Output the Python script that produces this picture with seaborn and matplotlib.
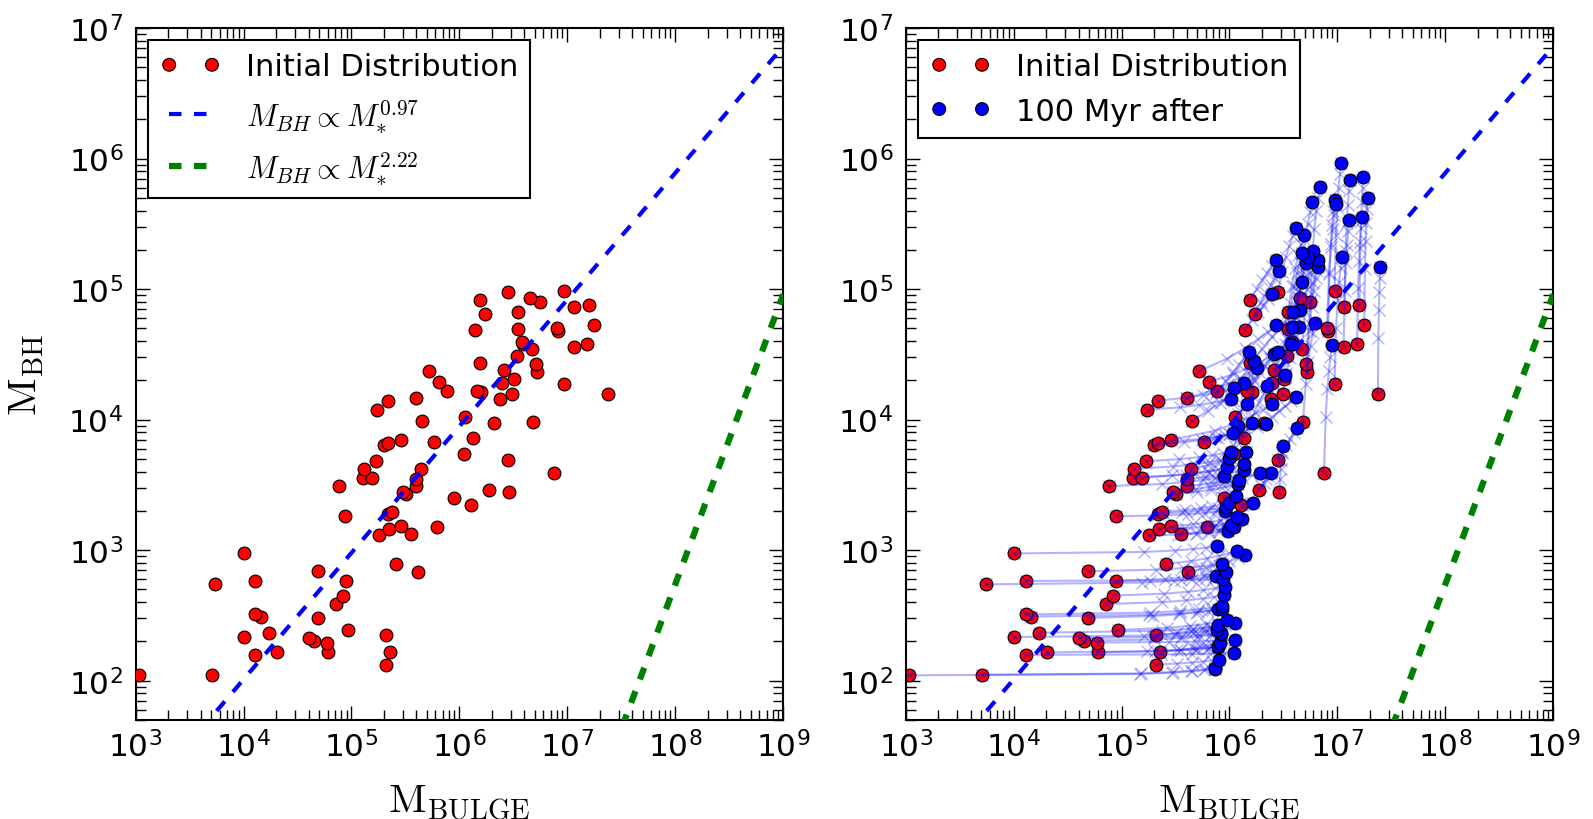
import numpy as np
import pandas as pd
import matplotlib
matplotlib.use("Agg")
import matplotlib.pyplot as plt
import seaborn as sns

# Bulge and black-hole masses of each galaxy at the start (solar masses)
m_bulge_init = [
    1.08e3, 5.1e3, 2.1e5, 1.29e4, 2.04e4, 6.0e4, 2.28e5, 5.9e4, 4.5e4, 4.07e4,
    1.0e4, 2.1e5, 1.71e4, 9.2e4, 4.9e4, 1.45e4, 1.29e4, 7.25e4, 8.3e4, 5.5e3,
    1.29e4, 8.9e4, 4.1e5, 4.9e4, 2.57e5, 1.0e4,
    1.78e5, 3.55e5, 2.22e5, 6.15e5, 2.85e5, 8.8e4, 2.2e5, 2.37e5, 1.27e6, 8.9e5,
    3.2e5, 3.0e5, 2.9e6, 1.87e6, 7.7e4, 4.0e5, 4.0e5, 1.29e5, 1.54e5, 7.5e6,
    1.3e5, 4.4e5, 1.7e5, 2.8e6, 1.1e6, 2.0e5, 2.17e5, 5.8e5, 2.9e5, 1.35e6,
    2.07e6, 4.8e6, 4.5e5, 1.13e6, 1.74e5, 2.2e5, 2.4e6, 4.0e5, 2.37e7, 3.1e6,
    1.6e6, 7.7e5, 1.45e6, 9.4e6, 2.5e6, 6.5e5, 3.2e6, 5.2e6, 5.2e5, 2.6e6,
    5.1e6, 1.55e6, 3.4e6, 4.7e6, 1.14e7, 3.9e6, 1.52e7, 3.8e6, 8.2e6, 1.38e6,
    3.5e6, 8.0e6, 1.77e7, 1.73e6, 3.5e6, 1.16e7, 1.6e7, 5.6e6, 1.55e6, 4.5e6,
    2.8e6, 9.4e6,
]
m_bh_init = [
    110, 111, 133, 158, 165, 165, 166, 196, 202, 212,
    216, 223, 233, 245, 303, 310, 322, 387, 449, 547,
    582, 582, 685, 689, 785, 944,
    1297, 1327, 1462, 1514, 1520, 1815, 1905, 1960, 2200, 2500,
    2700, 2800, 2800, 2900, 3100, 3100, 3500, 3600, 3600, 3900,
    4200, 4200, 4800, 4900, 5500, 6400, 6650, 6700, 7000, 7200,
    9400, 9600, 9800, 1.05e4, 1.19e4, 1.4e4, 1.45e4, 1.46e4, 1.56e4, 1.57e4,
    1.63e4, 1.65e4, 1.67e4, 1.86e4, 1.9e4, 1.95e4, 2.05e4, 2.3e4, 2.35e4, 2.4e4,
    2.65e4, 2.7e4, 3.1e4, 3.5e4, 3.6e4, 3.8e4, 3.8e4, 3.9e4, 4.8e4, 4.9e4,
    4.95e4, 5.0e4, 5.3e4, 6.5e4, 6.7e4, 7.3e4, 7.6e4, 7.9e4, 8.3e4, 8.6e4,
    9.5e4, 9.7e4,
]

# The same galaxies 100 Myr later
m_bulge_final = [
    7.3e5, 7.4e5, 8.0e5, 1.1e6, 7.8e5, 7.9e5, 8.1e5, 1.13e6, 8.3e5, 8.4e5,
    7.6e5, 7.8e5, 1.12e6, 9.4e5, 7.8e5, 8.5e5, 8.6e5, 8.9e5, 9.0e5, 7.5e5,
    8.7e5, 9.2e5, 1.39e6, 8.5e5, 1.17e6, 7.6e5,
    9.6e5, 1.1e6, 1.04e6, 1.3e6, 1.17e6, 9.0e5, 9.3e5, 1.0e6, 1.66e6, 1.15e6,
    1.2e6, 1.23e6, 3.1e6, 2.4e6, 8.9e5, 1.92e6, 1.37e6, 9.5e5, 1.37e6, 8.9e6,
    9.9e5, 1.43e6, 1.04e6, 4.2e6, 1.21e6, 1.08e6, 2.2e6, 1.6e6, 2.5e6, 2.25e6,
    4.1e6, 6.2e6, 1.35e6, 1.44e6, 1.04e6, 1.1e6, 3.7e6, 1.8e6, 2.5e7, 4.4e6,
    1.7e6, 1.52e6, 2.6e6, 1.1e7, 3.8e6, 2.8e6, 3.3e6, 6.6e6, 2.7e6, 4.5e6,
    6.6e6, 3.85e6, 4.7e6, 6.0e6, 1.29e7, 5.1e6, 1.68e7, 5.3e6, 9.4e6, 2.5e6,
    4.7e6, 9.7e6, 1.9e7, 2.9e6, 4.9e6, 1.31e7, 1.74e7, 6.9e6, 2.7e6, 5.85e6,
    4.1e6, 1.08e7,
]
m_bh_final = [
    123, 125, 145, 163, 180, 183, 195, 205, 228, 232,
    246, 265, 277, 290, 352, 356, 372, 451, 525, 635,
    600, 682, 911, 790, 988, 1070,
    1400, 1500, 1560, 1720, 1810, 2000, 2140, 2300, 2300, 2600,
    3200, 3470, 6300, 3900, 3670, 3900, 4120, 4300, 4570, 3.7e4,
    5070, 5650, 5700, 8600, 8900, 7900, 9300, 9400, 1.32e4, 1.8e4,
    1.5e4, 5.5e4, 1.9e4, 1.32e4, 1.45e4, 1.75e4, 3.8e4, 2.5e4, 1.49e5, 5.1e4,
    2.8e4, 3.3e4, 3.2e4, 1.77e5, 5.1e4, 3.3e4, 2.2e4, 1.47e5, 5.3e4, 6.9e4,
    1.68e5, 6.7e4, 1.13e5, 1.97e5, 3.4e5, 1.58e5, 3.56e5, 1.75e5, 4.8e5, 9.2e4,
    1.88e5, 4.5e5, 5.0e5, 1.37e5, 2.6e5, 6.9e5, 7.2e5, 6.05e5, 1.68e5, 4.65e5,
    2.95e5, 9.2e5,
]

# Scaling relations M_BH = 10**lognorm * M_bulge**slope
slope_a, lognorm_a = 0.97, -1.87
slope_b, lognorm_b = 2.22, -15.02

# Snapshot fractions marked along each evolutionary track
track_steps = [0.0, 0.2, 0.4, 0.6, 0.8, 1.0]

galaxies = pd.DataFrame({
    "bulge_init": m_bulge_init, "bh_init": m_bh_init,
    "bulge_final": m_bulge_final, "bh_final": m_bh_final,
})

sns.set_style("white", {
    "axes.edgecolor": "black",
    "axes.labelcolor": "black",
    "text.color": "black",
    "xtick.direction": "in", "ytick.direction": "in",
    "xtick.top": True, "ytick.right": True,
    "xtick.bottom": True, "ytick.left": True,
    "xtick.color": "black", "ytick.color": "black",
})
plt.rcParams.update({
    "font.family": ["DejaVu Sans"],
    "mathtext.fontset": "cm",
    "text.color": "black",
    "axes.labelcolor": "black",
    "axes.linewidth": 1.5,
    "xtick.major.size": 10, "ytick.major.size": 10,
    "xtick.minor.size": 7, "ytick.minor.size": 7,
    "xtick.major.width": 1.0, "ytick.major.width": 1.0,
    "xtick.minor.width": 1.0, "ytick.minor.width": 1.0,
    "xtick.major.pad": 7, "ytick.major.pad": 9,
    "xtick.labelsize": 22.5, "ytick.labelsize": 22.5,
    "xtick.labelcolor": "black", "ytick.labelcolor": "black",
    "lines.scale_dashes": False,
})

fig = plt.figure(figsize=(15.93, 8.20), dpi=100)
ax1 = fig.add_axes([0.0851, 0.1207, 0.4066, 0.8439])
ax2 = fig.add_axes([0.5685, 0.1207, 0.4066, 0.8439])

xs = np.logspace(3, 9, 400)
label_a = r"$M_{BH}\propto M_{*}^{%.2f}$" % slope_a
label_b = r"$M_{BH}\propto M_{*}^{%.2f}$" % slope_b

point_kw = dict(s=85, edgecolor="black", linewidth=0.8, legend=False)

# Left panel: initial distribution with the two scaling relations
sns.scatterplot(data=galaxies, x="bulge_init", y="bh_init", color="red",
                ax=ax1, zorder=3, label="Initial Distribution", **point_kw)
ax1.plot(xs, 10**lognorm_a * xs**slope_a, color="blue", lw=3.0,
         dashes=(9, 9), zorder=4, label=label_a)
ax1.plot(xs, 10**lognorm_b * xs**slope_b, color="green", lw=4.5,
         dashes=(9, 9), zorder=4, label=label_b)

# Right panel: evolution of every galaxy over 100 Myr
sns.scatterplot(data=galaxies, x="bulge_init", y="bh_init", color="red",
                ax=ax2, zorder=2, label="Initial Distribution", **point_kw)
t = np.asarray(track_steps)
for row in galaxies.itertuples():
    tx = row.bulge_init + (row.bulge_final - row.bulge_init) * t
    ty = row.bh_init + (row.bh_final - row.bh_init) * t
    ax2.plot(tx, ty, "-x", color="blue", alpha=0.3, lw=1.5, ms=9, mew=1.0,
             zorder=3)
sns.scatterplot(data=galaxies, x="bulge_final", y="bh_final", color="blue",
                ax=ax2, zorder=4, label="100 Myr after", **point_kw)
ax2.plot(xs, 10**lognorm_a * xs**slope_a, color="blue", lw=3.0,
         dashes=(9, 9), zorder=5)
ax2.plot(xs, 10**lognorm_b * xs**slope_b, color="green", lw=4.5,
         dashes=(9, 9), zorder=5)

for ax in (ax1, ax2):
    ax.set_xscale("log")
    ax.set_yscale("log")
    ax.set_xlim(1e3, 1e9)
    ax.set_ylim(50, 1e7)
    ax.set_xlabel(r"$\mathrm{M_{BULGE}}$", fontsize=29.5, labelpad=14)
    ax.set_ylabel("")
    ax.tick_params(which="both", top=True, right=True, direction="in",
                   colors="black", labelcolor="black")

ax1.set_ylabel(r"$\mathrm{M_{BH}}$", fontsize=29.5, labelpad=16)

legend_kw = dict(loc="upper left", fontsize=22, numpoints=2, scatterpoints=2,
                 scatteryoffsets=[0.5], handlelength=2.0, handletextpad=0.8,
                 borderpad=0.4, borderaxespad=0.4, labelspacing=0.5,
                 fancybox=False, framealpha=1.0, edgecolor="black")
h1, l1 = ax1.get_legend_handles_labels()
order1 = [l1.index("Initial Distribution"), l1.index(label_a), l1.index(label_b)]
leg1 = ax1.legend([h1[i] for i in order1], [l1[i] for i in order1], **legend_kw)
leg1.get_frame().set_linewidth(1.5)
h2, l2 = ax2.get_legend_handles_labels()
leg2 = ax2.legend(h2, l2, **legend_kw)
leg2.get_frame().set_linewidth(1.5)
for leg in (leg1, leg2):
    for txt in leg.get_texts():
        txt.set_color("black")

fig.savefig("out.png", dpi=100)
